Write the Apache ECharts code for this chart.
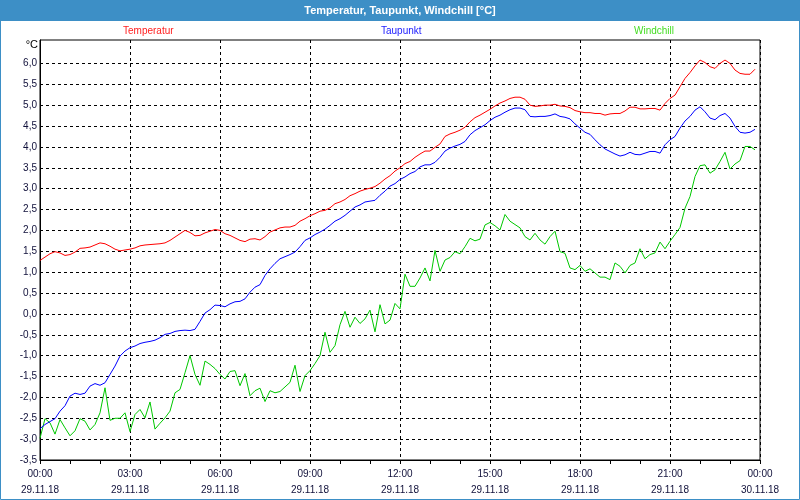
<!DOCTYPE html>
<html>
<head>
<meta charset="utf-8">
<script src="https://cdn.jsdelivr.net/npm/echarts@6/dist/echarts.min.js"></script>
<style>
html,body{margin:0;padding:0;background:#fff;}
#c{width:800px;height:500px;}
</style>
</head>
<body>
<div id="c"></div>
<script>
// 10-minute samples, 29.11.18 00:00 .. 23:50
const temperatur = [
1.28,1.36,1.44,1.49,1.46,1.40,1.42,1.48,1.57,1.58,
1.60,1.65,1.70,1.68,1.62,1.55,1.51,1.53,1.55,1.58,
1.63,1.65,1.66,1.67,1.68,1.70,1.76,1.84,1.92,2.00,
1.95,1.87,1.88,1.94,1.98,2.02,2.00,1.92,1.88,1.82,
1.76,1.73,1.79,1.80,1.77,1.85,1.96,2.01,2.06,2.08,
2.08,2.12,2.22,2.28,2.35,2.40,2.46,2.48,2.54,2.64,
2.68,2.74,2.83,2.88,2.94,2.98,3.01,3.05,3.13,3.23,
3.31,3.42,3.50,3.60,3.65,3.75,3.83,3.90,3.90,3.99,
4.07,4.25,4.31,4.35,4.40,4.47,4.60,4.70,4.76,4.83,
4.90,4.98,5.05,5.10,5.16,5.19,5.19,5.14,5.00,4.97,
4.98,5.00,5.00,5.02,4.98,4.97,4.94,4.87,4.84,4.82,
4.82,4.80,4.80,4.76,4.79,4.80,4.80,4.86,4.95,4.95,
4.91,4.91,4.92,4.92,4.88,5.04,5.16,5.24,5.44,5.64,
5.78,5.94,6.08,6.02,5.92,5.88,6.00,6.08,6.00,5.84,
5.76,5.74,5.74,5.86
];
const taupunkt = [
-2.75,-2.65,-2.58,-2.51,-2.33,-2.20,-1.97,-1.90,-1.93,-1.90,
-1.73,-1.67,-1.71,-1.65,-1.45,-1.25,-1.01,-0.89,-0.81,-0.77,
-0.71,-0.68,-0.66,-0.63,-0.57,-0.49,-0.47,-0.42,-0.40,-0.39,
-0.40,-0.37,-0.18,0.02,0.10,0.21,0.20,0.17,0.24,0.29,
0.30,0.36,0.52,0.64,0.70,0.92,1.08,1.21,1.32,1.37,
1.42,1.48,1.61,1.76,1.82,1.90,1.96,2.03,2.12,2.22,
2.28,2.36,2.46,2.56,2.61,2.68,2.70,2.72,2.84,2.94,
3.06,3.12,3.22,3.28,3.36,3.41,3.52,3.57,3.57,3.63,
3.75,3.90,3.97,4.02,4.06,4.13,4.29,4.39,4.46,4.53,
4.63,4.71,4.76,4.83,4.89,4.93,4.93,4.89,4.73,4.72,
4.73,4.73,4.75,4.79,4.73,4.71,4.67,4.55,4.45,4.35,
4.30,4.17,4.05,3.95,3.89,3.83,3.78,3.81,3.87,3.82,
3.81,3.85,3.89,3.89,3.85,4.05,4.17,4.25,4.45,4.62,
4.73,4.88,4.96,4.84,4.69,4.65,4.75,4.80,4.69,4.49,
4.35,4.33,4.35,4.42
];
const windchill = [
-2.98,-2.51,-2.61,-2.88,-2.53,-2.73,-2.92,-2.80,-2.51,-2.57,
-2.78,-2.65,-2.37,-1.77,-2.55,-2.50,-2.50,-2.37,-2.82,-2.41,
-2.29,-2.49,-2.11,-2.76,-2.62,-2.49,-2.33,-1.89,-1.81,-1.41,
-1.00,-1.45,-1.71,-1.13,-1.21,-1.31,-1.45,-1.56,-1.38,-1.36,
-1.72,-1.43,-1.96,-1.84,-1.78,-2.10,-1.84,-1.89,-1.86,-1.75,
-1.64,-1.23,-1.86,-1.48,-1.36,-1.19,-1.00,-0.44,-0.92,-0.76,
-0.26,0.06,-0.32,-0.08,-0.23,-0.12,0.09,-0.43,0.22,-0.24,
-0.15,0.25,0.12,0.95,0.66,0.66,0.86,1.10,0.79,1.52,
1.02,1.29,1.35,1.49,1.44,1.61,1.81,1.75,1.79,2.13,
2.19,2.11,2.01,2.38,2.22,2.14,2.06,1.85,1.77,1.93,
1.77,1.67,1.85,1.98,1.49,1.45,1.10,1.06,1.16,1.02,
1.08,0.98,0.88,0.88,0.82,1.22,1.14,0.98,1.16,1.22,
1.56,1.32,1.42,1.46,1.72,1.56,1.74,1.90,2.07,2.53,
2.81,3.29,3.55,3.57,3.37,3.45,3.65,3.87,3.47,3.59,
3.67,4.01,4.01,3.93
];
const sampleMinutes = 10;
const xTickLabels = [
'00:00\n29.11.18','03:00\n29.11.18','06:00\n29.11.18','09:00\n29.11.18',
'12:00\n29.11.18','15:00\n29.11.18','18:00\n29.11.18','21:00\n29.11.18',
'00:00\n30.11.18'
];
const yTickValues = [-3.5,-3.0,-2.5,-2.0,-1.5,-1.0,-0.5,0.0,0.5,1.0,1.5,2.0,2.5,3.0,3.5,4.0,4.5,5.0,5.5,6.0];
const seriesNames = ['Temperatur','Taupunkt','Windchill'];
const seriesColors = ['#ff0000','#0000ff','#00c800'];
const legendColors = ['#ff2020','#2020ff','#44dd22'];

function pairs(arr){ return arr.map((v,i)=>[i*sampleMinutes, v]); }

const chart = echarts.init(document.getElementById('c'), null, {renderer:'canvas'});
const font = '"Liberation Sans", Arial, sans-serif';
const legendLeft = [118, 376, 629];

chart.setOption({
  animation:false,
  backgroundColor:'#ffffff',
  textStyle:{fontFamily:font},
  graphic:[
    {type:'rect', left:0, top:0, shape:{x:0,y:0,width:800,height:21}, style:{fill:'#3d8fc6'}, silent:true},
    {type:'rect', shape:{x:0.5,y:0.5,width:799,height:499}, style:{fill:null, stroke:'#3d8fc6', lineWidth:1}, silent:true},
    {type:'text', x:400, y:11, style:{text:'Temperatur, Taupunkt, Windchill [°C]', fill:'#ffffff', font:'bold 11px '+font, textAlign:'center', textVerticalAlign:'middle'}, silent:true},
    {type:'text', x:38, y:45, style:{text:'°C', fill:'#000000', font:'11px '+font, textAlign:'right', textVerticalAlign:'middle'}, silent:true}
  ],
  legend: seriesNames.map((n,i)=>({
    data:[{name:n, textStyle:{color:legendColors[i]}}],
    left:legendLeft[i], top:24, icon:'none', itemWidth:0, itemHeight:14, padding:0,
    selectedMode:false,
    textStyle:{fontSize:10, fontFamily:font}
  })),
  grid:{left:40, right:40, top:40, bottom:40, show:true, borderColor:'#000', borderWidth:1, backgroundColor:'transparent'},
  xAxis:{
    type:'value', min:0, max:1440, interval:180,
    axisLine:{show:true, onZero:false, lineStyle:{color:'#000', width:1}},
    axisTick:{show:true, length:4, lineStyle:{color:'#000'}},
    minorTick:{show:true, splitNumber:3, length:4, lineStyle:{color:'#000'}},
    splitLine:{show:true, lineStyle:{color:'#000', type:[3,3], width:1}},
    axisLabel:{
      color:'#10103a', fontSize:10, fontFamily:font, lineHeight:16, margin:6,
      formatter:(v)=> xTickLabels[Math.round(v/180)] || ''
    }
  },
  yAxis:{
    type:'value', min:-3.5, max:6.56,
    axisLine:{show:true, onZero:false, lineStyle:{color:'#000', width:1}},
    axisTick:{show:false, customValues:yTickValues},
    splitLine:{show:true, lineStyle:{color:'#000', type:[3,3], width:1}},
    axisLabel:{
      color:'#10103a', fontSize:10, fontFamily:font, margin:3,
      customValues:yTickValues,
      formatter:(v)=> (v > 6.01) ? '' : Number(v).toFixed(1).replace('.',',')
    }
  },
  series:[
    {name:seriesNames[0], type:'line', data:pairs(temperatur), showSymbol:false, lineStyle:{color:seriesColors[0], width:1}, itemStyle:{color:seriesColors[0]}, z:5},
    {name:seriesNames[1], type:'line', data:pairs(taupunkt), showSymbol:false, lineStyle:{color:seriesColors[1], width:1}, itemStyle:{color:seriesColors[1]}, z:4},
    {name:seriesNames[2], type:'line', data:pairs(windchill), showSymbol:false, lineStyle:{color:seriesColors[2], width:1}, itemStyle:{color:seriesColors[2]}, z:3}
  ]
});
</script>
</body>
</html>
